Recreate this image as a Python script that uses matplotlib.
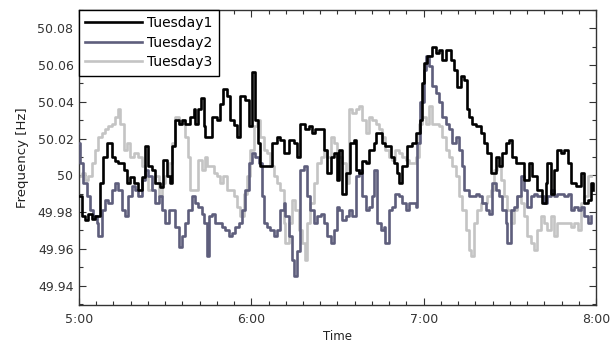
import matplotlib
matplotlib.use("Agg")
import matplotlib.pyplot as plt
from matplotlib.ticker import MultipleLocator, FuncFormatter

plt.rcParams['font.family'] = ['DejaVu Sans']

# minutes after 5:00 and frequency [Hz]
t1 = [0, 0.9, 2.1, 3.3, 4.4, 5.6, 7.3, 8.5, 9.65, 11.4, 12.6, 13.7, 15.5, 16.6, 17.8, 19.0, 20.7, 21.9,
      23.0, 24.2, 25.35, 26.5, 28.25, 29.4, 30.6, 31.7, 32.3, 33.5, 34.7, 35.8, 37.0, 38.7, 39.9, 40.5,
      41.6, 42.6, 43.4, 44.0, 46.3, 48.0, 49.2, 50.3, 51.5, 52.7, 53.8, 55.0, 56.2, 57.9, 59.1, 60.2,
      61.4, 62.3, 63.1, 64.9, 67.2, 69.0, 70.1, 71.3, 73.0, 74.8, 75.9, 77.1, 78.8, 80.0, 81.2, 82.3,
      84.1, 85.2, 86.4, 87.6, 88.7, 89.9, 90.5, 91.6, 92.8, 94.5, 95.7, 96.3, 97.4, 98.6, 99.8, 100.9,
      102.7, 103.3, 104.4, 105.6, 106.7, 108.5, 109.6, 110.8, 111.4, 112.6, 114.3, 116.0, 117.2, 118.9,
      119.5, 120.1, 121.3, 123.0, 124.2, 125.3, 126.5, 127.7, 129.4, 130.6, 131.7, 132.9, 134.1, 135.2,
      135.8, 136.9, 138.1, 139.8, 141.0, 142.2, 143.3, 145.1, 146.2, 147.4, 148.6, 149.7, 150.9, 152.0,
      153.8, 154.9, 156.7, 157.9, 159.6, 161.3, 162.5, 163.1, 164.3, 165.4, 166.6, 167.7, 168.9, 170.1,
      171.2, 173.0, 174.7, 175.9, 177.1, 178.2, 178.8]
f1 = [49.9885, 49.9776, 49.9757, 49.979, 49.976, 49.978, 49.996, 50.010, 50.0175, 50.010, 50.008, 50.0066,
      50.003, 49.9957, 49.999, 49.996, 49.992, 49.999, 50.0157, 50.0048, 50.003, 49.9957, 49.9939, 50.0084,
      49.9994, 49.9957, 50.0157, 50.030, 50.028, 50.030, 50.028, 50.032, 50.036, 50.028, 50.036, 50.042,
      50.027, 50.021, 50.032, 50.030, 50.039, 50.047, 50.043, 50.030, 50.0275, 50.021, 50.043, 50.041,
      50.027, 50.056, 50.030, 50.0175, 50.0048, 50.0048, 50.0175, 50.021, 50.019, 50.012, 50.019, 50.0175,
      50.010, 50.028, 50.025, 50.027, 50.023, 50.025, 50.025, 50.014, 50.001, 50.010, 50.012, 49.9975,
      50.014, 49.990, 50.001, 50.0175, 50.019, 50.003, 50.001, 50.008, 50.0066, 50.014, 50.0175, 50.023,
      50.023, 50.0175, 50.0157, 50.010, 50.0066, 50.001, 49.9957, 50.0048, 50.0157, 50.0175, 50.023,
      50.030, 50.050, 50.061, 50.065, 50.070, 50.0666, 50.068, 50.063, 50.068, 50.063, 50.0575, 50.048,
      50.054, 50.052, 50.036, 50.032, 50.028, 50.027, 50.023, 50.0175, 50.012, 50.001, 50.010, 50.0048,
      50.012, 50.0175, 50.019, 50.010, 50.0066, 50.0066, 49.9975, 50.0066, 49.9994, 49.992, 49.985,
      49.9957, 50.0066, 49.990, 50.003, 50.014, 50.012, 50.014, 50.0066, 49.9957, 49.994, 50.001, 49.985,
      49.9866, 49.9957, 49.992]

t2 = [0, 0.35, 1.5, 2.7, 3.8, 5.0, 6.2, 6.7, 7.9, 9.1, 10.2, 11.4, 12.6, 13.7, 14.9, 16.05, 17.2, 18.4,
      19.5, 20.7, 21.9, 23.0, 24.2, 25.35, 26.5, 27.7, 28.8, 30.0, 31.2, 32.3, 33.5, 34.7, 35.8, 37.0,
      38.1, 39.3, 40.5, 41.6, 42.8, 43.4, 44.5, 45.1, 46.3, 47.4, 48.6, 49.8, 50.9, 52.1, 53.3, 54.4,
      55.6, 56.7, 57.9, 59.1, 60.2, 61.4, 62.6, 63.7, 64.3, 65.5, 66.6, 67.8, 69.0, 70.1, 71.3, 71.9,
      73.0, 74.2, 74.8, 75.9, 77.1, 78.3, 79.4, 80.6, 81.7, 82.9, 84.1, 85.2, 86.4, 87.6, 88.7, 89.9,
      90.5, 91.6, 92.8, 93.9, 95.1, 96.3, 97.4, 98.6, 99.8, 100.9, 102.1, 102.7, 103.8, 105.0, 106.2,
      106.7, 107.9, 109.1, 110.2, 111.4, 112.6, 113.7, 114.9, 116.0, 117.2, 117.8, 118.9, 120.1, 120.7,
      121.9, 123.0, 124.2, 125.3, 126.5, 127.7, 128.8, 130.0, 131.2, 132.3, 133.5, 134.1, 135.2, 135.8,
      136.9, 138.1, 139.2, 140.4, 141.6, 142.7, 143.9, 145.1, 146.2, 147.4, 148.6, 149.1, 150.3, 151.5,
      152.6, 153.8, 154.9, 156.1, 157.3, 158.4, 159.6, 160.8, 161.9, 163.1, 164.3, 165.4, 166.6, 167.7,
      168.9, 170.1, 171.2, 172.4, 173.6, 174.7, 175.9, 177.1, 178.2]
f2 = [50.0175, 50.0066, 49.9957, 49.9885, 49.981, 49.978, 49.974, 49.9667, 49.981, 49.9866, 49.985, 49.992,
      49.9957, 49.992, 49.981, 49.978, 49.9885, 49.994, 49.992, 49.9885, 49.9975, 50.003, 49.9994, 49.992,
      49.985, 49.9885, 49.981, 49.974, 49.981, 49.981, 49.972, 49.961, 49.9667, 49.974, 49.981, 49.9885,
      49.985, 49.983, 49.979, 49.974, 49.956, 49.978, 49.979, 49.974, 49.974, 49.972, 49.970, 49.9667,
      49.9685, 49.972, 49.974, 49.981, 49.992, 50.0066, 50.012, 50.010, 50.0066, 49.9885, 49.974, 49.972,
      49.970, 49.9667, 49.970, 49.981, 49.985, 49.978, 49.9667, 49.954, 49.945, 49.959, 50.003, 50.0048,
      49.9885, 49.981, 49.974, 49.978, 49.979, 49.974, 49.9667, 49.963, 49.970, 49.983, 49.981, 49.9757,
      49.9776, 49.981, 49.9776, 49.9994, 50.003, 49.9885, 49.981, 49.983, 49.9885, 50.003, 49.974, 49.970,
      49.972, 49.963, 49.981, 49.983, 49.990, 49.9885, 49.985, 49.981, 49.985, 49.985, 49.983, 50.0175,
      50.040, 50.0575, 50.065, 50.0593, 50.0484, 50.0448, 50.040, 50.032, 50.028, 50.025, 50.0175, 50.021,
      50.014, 50.0048, 49.992, 49.992, 49.9885, 49.9885, 49.990, 49.9885, 49.985, 49.981, 49.979, 49.9957,
      49.992, 49.9885, 49.981, 49.974, 49.963, 49.981, 49.983, 49.9885, 49.9994, 49.992, 49.983, 49.9885,
      49.990, 49.9885, 49.9885, 49.985, 49.9885, 49.992, 49.9885, 49.990, 49.990, 49.9885, 49.990, 49.981,
      49.983, 49.981, 49.983, 49.9776, 49.974, 49.9776]

t3 = [0, 0.9, 2.1, 3.3, 4.4, 5.6, 6.7, 7.9, 9.1, 10.2, 11.4, 12.6, 13.5, 14.3, 15.5, 16.6, 17.8, 19.0,
      20.7, 21.9, 23.0, 24.2, 25.35, 26.5, 27.7, 28.8, 30.0, 31.2, 32.3, 33.5, 34.7, 35.8, 37.0, 38.1,
      38.7, 39.9, 41.6, 42.8, 44.0, 44.5, 45.7, 46.9, 48.0, 49.2, 50.3, 51.5, 52.7, 53.8, 55.0, 56.2,
      57.3, 58.5, 59.6, 60.8, 62.0, 63.1, 64.3, 65.5, 66.6, 67.8, 69.0, 70.1, 71.3, 71.9, 73.0, 74.2,
      75.3, 76.5, 77.7, 78.6, 79.4, 80.6, 81.7, 82.9, 84.1, 85.2, 86.4, 87.6, 88.7, 89.9, 90.5, 91.6,
      92.8, 93.4, 93.9, 95.1, 96.3, 97.4, 98.6, 99.8, 100.9, 102.1, 103.3, 104.4, 105.6, 106.7, 107.9,
      109.1, 110.2, 111.4, 112.6, 113.7, 114.9, 116.0, 117.2, 118.4, 119.5, 120.7, 121.9, 123.0, 124.2,
      125.3, 126.5, 127.7, 128.8, 130.0, 131.2, 132.3, 133.5, 134.6, 135.8, 136.4, 137.5, 138.7, 139.8,
      141.0, 142.2, 143.3, 144.5, 145.6, 146.8, 148.0, 149.1, 150.3, 151.5, 152.6, 153.8, 154.9, 156.1,
      157.3, 158.4, 159.6, 160.8, 161.9, 163.1, 164.3, 165.4, 166.6, 167.7, 168.9, 170.1, 171.2, 172.4,
      173.6, 174.7, 175.9, 177.1, 178.2]
f3 = [49.9994, 50.001, 49.9975, 49.9994, 50.0066, 50.014, 50.021, 50.023, 50.025, 50.027, 50.028, 50.032,
      50.036, 50.028, 50.014, 50.0175, 50.010, 50.012, 50.010, 50.0048, 49.9994, 49.992, 49.9957, 49.9994,
      49.9885, 49.9957, 49.9994, 50.0066, 50.0175, 50.032, 50.028, 50.030, 50.021, 50.010, 49.992, 49.992,
      50.0084, 50.003, 50.010, 50.0048, 50.0048, 50.001, 49.9994, 49.9957, 49.9994, 49.992, 49.992,
      49.9885, 49.983, 49.9776, 49.990, 49.9994, 50.014, 50.027, 50.030, 50.021, 50.014, 50.012, 50.0048,
      49.9994, 49.9957, 49.992, 49.974, 49.963, 49.974, 49.9866, 49.981, 49.970, 49.963, 49.954, 49.974,
      49.985, 49.9957, 50.0066, 50.010, 50.014, 50.010, 50.021, 50.0175, 50.010, 50.010, 50.0066, 49.9994,
      49.9957, 50.036, 50.034, 50.036, 50.0375, 50.030, 50.023, 50.032, 50.030, 50.028, 50.025, 50.021,
      50.014, 50.010, 50.0084, 50.014, 50.012, 50.010, 50.0084, 50.0066, 50.0066, 50.010, 50.028, 50.032,
      50.028, 50.0375, 50.028, 50.028, 50.027, 50.021, 50.014, 50.010, 50.0048, 49.9994, 49.9885, 49.981,
      49.970, 49.9594, 49.956, 49.974, 49.981, 49.985, 49.985, 49.9885, 49.992, 50.003, 50.0048, 49.9975,
      49.9885, 49.981, 49.974, 49.981, 49.9885, 49.985, 49.9776, 49.9667, 49.963, 49.9594, 49.970,
      49.9776, 49.974, 49.970, 49.9776, 49.9667, 49.974, 49.974, 49.974, 49.974, 49.972, 49.974, 49.970,
      49.985, 49.9885, 49.9994, 49.9994]

hour_ticks = [0, 60, 120, 180]
hour_labels = ['5:00', '6:00', '7:00', '8:00']

fig = plt.figure(figsize=(6.1, 3.44), dpi=100)
ax = fig.add_axes([0.1295, 0.1134, 0.8475, 0.8576])

ax.plot(t3, f3, color='#c4c4c4', lw=1.9, drawstyle='steps-post', label='Tuesday3', zorder=2)
ax.plot(t2, f2, color='#5e5e7c', lw=1.9, drawstyle='steps-post', label='Tuesday2', zorder=3)
ax.plot(t1, f1, color='black', lw=1.9, drawstyle='steps-post', label='Tuesday1', zorder=4)

ax.set_xlim(0, 180)
ax.set_ylim(49.9294, 50.090)
ax.set_xticks(hour_ticks)
ax.set_xticklabels(hour_labels)
ax.xaxis.set_minor_locator(MultipleLocator(6))
ax.yaxis.set_major_locator(MultipleLocator(0.02))
ax.yaxis.set_minor_locator(MultipleLocator(0.01))
ax.yaxis.set_major_formatter(FuncFormatter(lambda v, p: '%g' % round(v, 2)))

ax.tick_params(which='both', direction='in', top=True, right=True, labelsize=9, colors='#333333')
ax.tick_params(axis='x', pad=6)
ax.tick_params(axis='y', pad=4)
ax.tick_params(which='major', length=5, width=0.8)
ax.tick_params(which='minor', length=3, width=0.8)
for sp in ax.spines.values():
    sp.set_color('#333333')
    sp.set_linewidth(1.0)

ax.set_xlabel('Time', fontsize=8.5, labelpad=3, color='#222222')
ax.set_ylabel('Frequency [Hz]', fontsize=9.5, labelpad=6, color='#222222')

handles, labels = ax.get_legend_handles_labels()
leg = ax.legend(handles[::-1], labels[::-1], loc='upper left', fontsize=10, handlelength=4.1,
                borderaxespad=0, fancybox=False, framealpha=1, edgecolor='black',
                labelspacing=0.4, borderpad=0.45, handletextpad=0.35)
leg.get_frame().set_linewidth(1.0)

fig.savefig('out.png', dpi=100)
